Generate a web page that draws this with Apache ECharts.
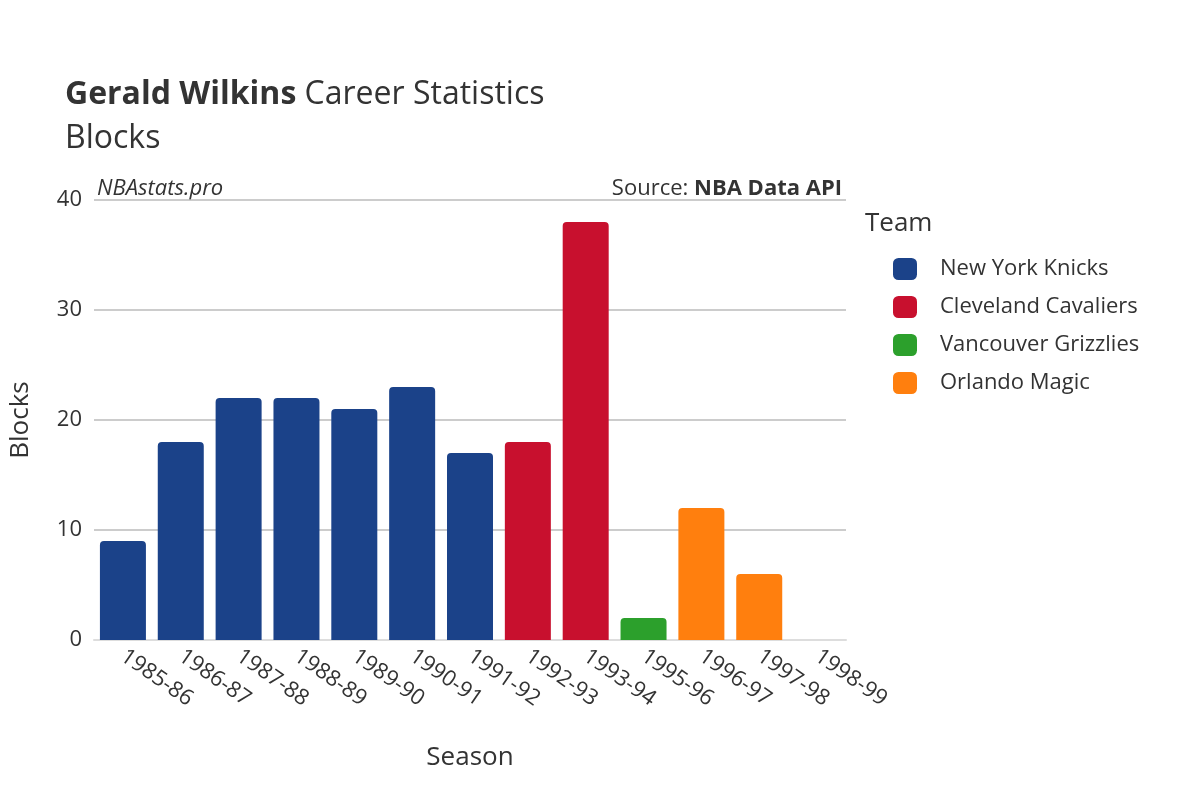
<!DOCTYPE html>
<html><head><meta charset="utf-8">
<script src="https://cdn.jsdelivr.net/npm/echarts@6/dist/echarts.min.js"></script>
<style>html,body{margin:0;background:#fff}#c{width:1200px;height:800px}</style>
</head><body><div id="c"></div>
<script>
const seasons=["1985-86","1986-87","1987-88","1988-89","1989-90","1990-91","1991-92","1992-93","1993-94","1995-96","1996-97","1997-98","1998-99"];
const teams=["New York Knicks","Cleveland Cavaliers","Vancouver Grizzlies","Orlando Magic"];
const colors=["#1b4289","#c8102e","#2ca02c","#ff7f0e"];
const blocks=[9,18,22,22,21,23,17,18,38,2,12,6,0];
const teamOf=[0,0,0,0,0,0,0,1,1,2,3,3,3];
const series=teams.map((t,ti)=>({
  name:t,type:'bar',stack:'s',barWidth:46,
  itemStyle:{color:colors[ti],borderRadius:[4,4,0,0]},
  data:blocks.map((v,i)=>teamOf[i]===ti?v:null)
}));
const ch=echarts.init(document.getElementById('c'));
const F='"Open Sans","Noto Sans",sans-serif';
ch.setOption({
  animation:false,
  textStyle:{fontFamily:F},
  title:{text:'{b|Gerald Wilkins} Career Statistics\nBlocks',left:60,top:68,
    textStyle:{fontSize:32,color:'#333',fontWeight:'normal',lineHeight:44,fontFamily:F,
      rich:{b:{fontSize:32,fontWeight:'bold',color:'#333',fontFamily:F}}}},
  grid:{left:92,right:354,top:200,bottom:160},
  xAxis:{type:'category',data:seasons,name:'Season',nameLocation:'middle',nameGap:105,
    nameTextStyle:{fontSize:26,color:'#333'},
    axisTick:{show:false},axisLine:{lineStyle:{color:'#ddd',width:2}},
    axisLabel:{rotate:-35,fontSize:22,color:'#333',margin:14,interval:0}},
  yAxis:{type:'value',min:0,max:40,interval:10,name:'Blocks',nameLocation:'middle',nameGap:60,
    nameTextStyle:{fontSize:26,color:'#333'},
    axisLabel:{fontSize:22,color:'#333',margin:12},
    splitLine:{lineStyle:{color:'#bbb',width:1.5}}},
  legend:{orient:'vertical',left:888,top:253,itemWidth:24,itemHeight:22,itemGap:16,icon:'roundRect',
    data:teams,textStyle:{fontSize:22,color:'#333',padding:[0,0,0,18]}},
  graphic:[
    {type:'text',left:865,top:211,style:{text:'Team',fontSize:26,fill:'#333',fontFamily:F}},
    {type:'text',left:97,top:178,style:{text:'NBAstats.pro',fontSize:22,fontStyle:'italic',fill:'#333',fontFamily:F}},
    {type:'text',right:358,top:178,style:{text:'{a|Source: }{b|NBA Data API}',fontFamily:F,
      rich:{a:{fontSize:22,fill:'#333',fontFamily:F},b:{fontSize:22,fontWeight:'bold',fill:'#333',fontFamily:F}}}}
  ],
  series
});
</script></body></html>
